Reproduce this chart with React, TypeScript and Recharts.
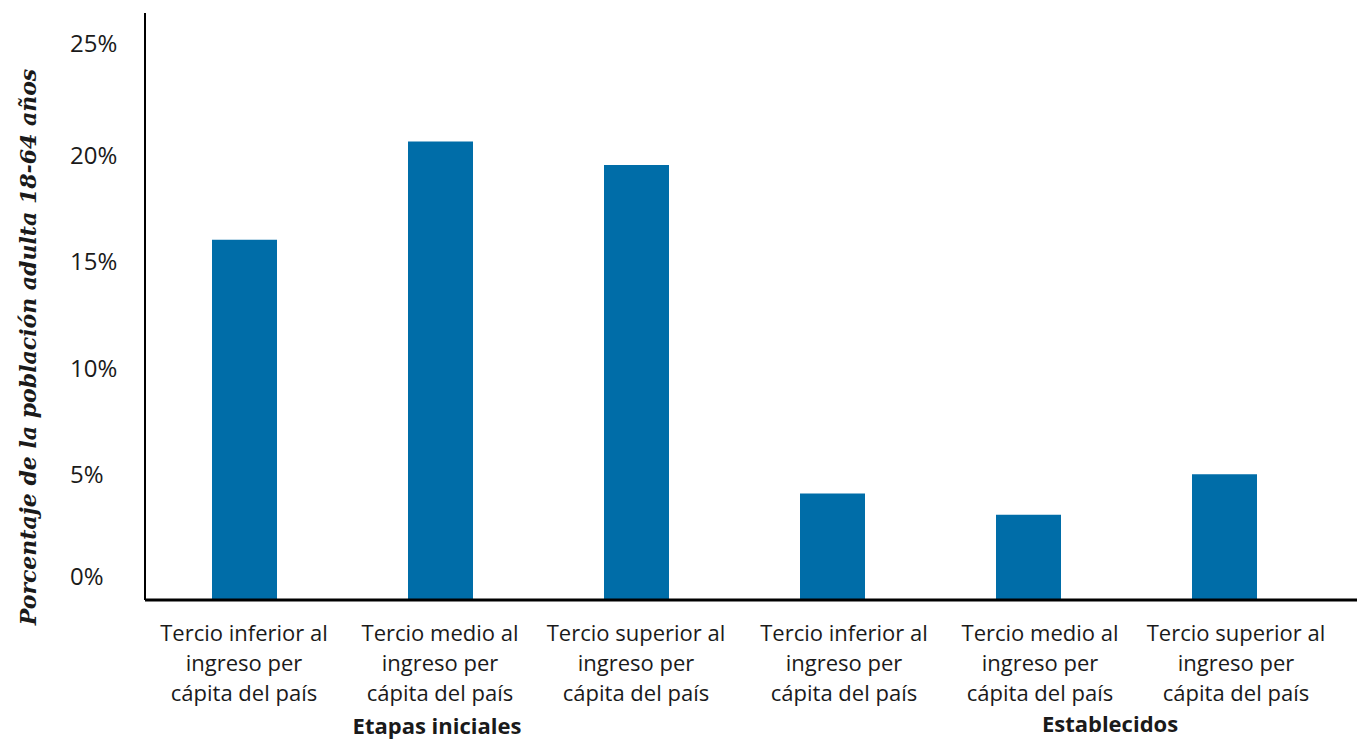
import { BarChart, Bar, XAxis, YAxis } from "recharts";

/* ================= DATA ================= */
const categories = [
  "Tercio inferior al\ningreso per\ncápita del país",
  "Tercio medio al\ningreso per\ncápita del país",
  "Tercio superior al\ningreso per\ncápita del país",
  "Tercio inferior al\ningreso per\ncápita del país",
  "Tercio medio al\ningreso per\ncápita del país",
  "Tercio superior al\ningreso per\ncápita del país",
];
const values = [16.9, 21.5, 20.4, 5.0, 4.0, 5.9];
const yTicks = [0, 5, 10, 15, 20, 25];
const groupLabels = ["Etapas iniciales", "Establecidos"];
const yTitle = "Porcentaje de la población adulta 18-64 años";

const data = categories.map((name, i) => ({ id: i, name, value: values[i] }));

const colors = {
  bar: "#006DA8",
  text: "#1a1a1a",
  axis: "#000000",
};

const sans = "'Open Sans', sans-serif";

/* ================= TICKS ================= */
function CategoryTick({ x, y, payload }: any) {
  const idx = payload.value as number;
  const lines = categories[idx].split("\n");
  const shift = idx >= 3 ? 12 : 0;
  return (
    <text
      x={x + shift}
      y={y}
      textAnchor="middle"
      fill={colors.text}
      fontFamily={sans}
      fontSize={22}
    >
      {lines.map((line, i) => (
        <tspan key={i} x={x + shift} y={y + 39 + i * 30}>
          {line}
        </tspan>
      ))}
    </text>
  );
}

function PercentTick({ y, payload }: any) {
  // reference labels sit above their gridline and drift a little upward in the middle
  const lift = payload.value === 0 || payload.value === 25 ? 23 : 18;
  return (
    <text
      x={70}
      y={y - lift + 8}
      textAnchor="start"
      fill={colors.text}
      fontFamily={sans}
      fontSize={24}
    >
      {payload.value}%
    </text>
  );
}

/* ================= COMPONENT ================= */
export default function App() {
  return (
    <div
      style={{
        position: "absolute",
        left: 0,
        top: 0,
        width: 1365,
        height: 740,
        background: "#fff",
        overflow: "hidden",
      }}
    >
      <BarChart
        width={1365}
        height={740}
        data={data}
        margin={{ top: 13, right: 8, bottom: 0, left: 0 }}
        barSize={65}
      >
        <XAxis
          dataKey="id"
          height={140}
          tick={<CategoryTick />}
          tickLine={false}
          tickSize={0}
          axisLine={{ stroke: colors.axis, strokeWidth: 3 }}
          padding={{ left: 1, right: 35 }}
          interval={0}
        />
        <YAxis
          width={145}
          domain={[0, 27.53]}
          ticks={yTicks}
          tick={<PercentTick />}
          tickLine={false}
          axisLine={{ stroke: colors.axis, strokeWidth: 2 }}
          allowDataOverflow
        />
        <Bar dataKey="value" fill={colors.bar} isAnimationActive={false} />
      </BarChart>

      {/* -------- Y title -------- */}
      <div
        style={{
          position: "absolute",
          left: 28,
          top: 347,
          transform: "translate(-50%, -50%) rotate(-90deg)",
          whiteSpace: "nowrap",
          fontFamily: "'DejaVu Serif', serif",
          fontWeight: "bold",
          fontStyle: "italic",
          fontSize: 22,
          color: colors.text,
        }}
      >
        {yTitle}
      </div>

      {/* -------- Group labels -------- */}
      {groupLabels.map((g, i) => (
        <div
          key={g}
          style={{
            position: "absolute",
            left: i === 0 ? 437 : 1110,
            top: i === 0 ? 725 : 723,
            transform: "translate(-50%, -50%)",
            whiteSpace: "nowrap",
            fontFamily: sans,
            fontWeight: "bold",
            fontSize: 22,
            lineHeight: "26px",
            color: colors.text,
          }}
        >
          {g}
        </div>
      ))}
    </div>
  );
}
